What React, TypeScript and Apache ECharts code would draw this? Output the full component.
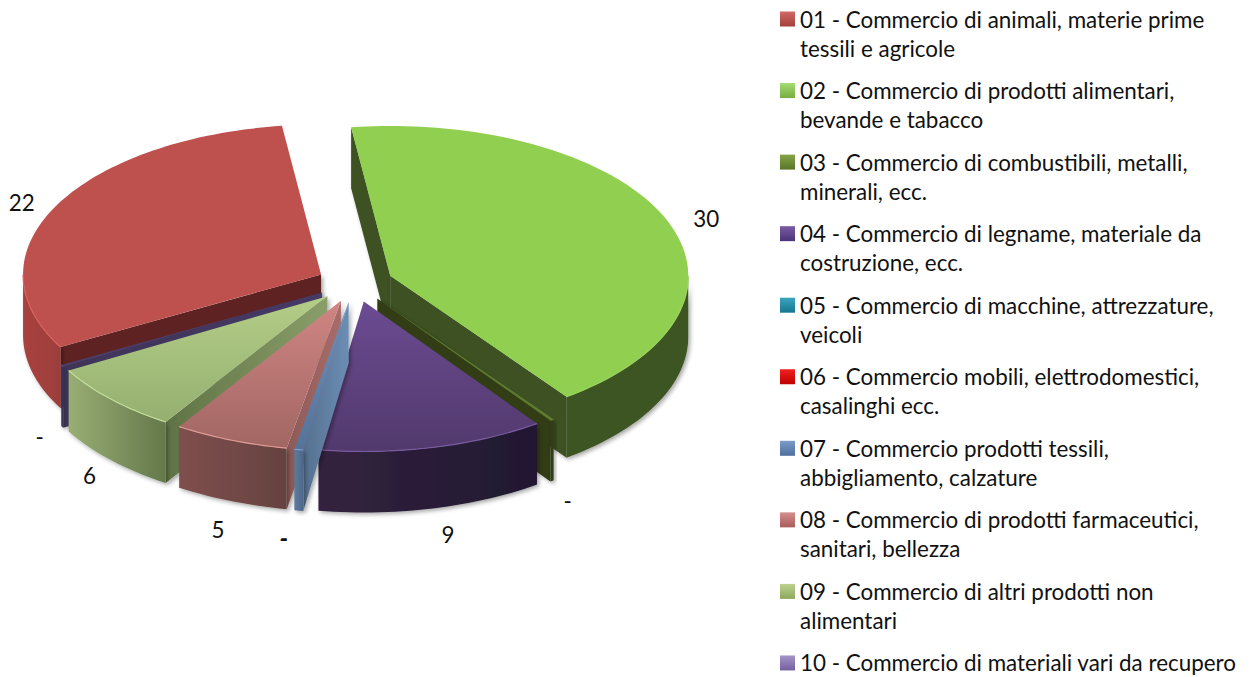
import React, { useEffect, useRef } from "react";
import * as echarts from "echarts";

const CATEGORY_LINES: string[][] = [
  ["01 - Commercio di animali, materie prime", "tessili e agricole"],
  ["02 - Commercio di prodotti alimentari,", "bevande e tabacco"],
  ["03 - Commercio di combustibili, metalli,", "minerali, ecc."],
  ["04 - Commercio di legname, materiale da", "costruzione, ecc."],
  ["05 - Commercio di macchine, attrezzature,", "veicoli"],
  ["06 - Commercio mobili, elettrodomestici,", "casalinghi ecc."],
  ["07 - Commercio prodotti tessili,", "abbigliamento, calzature"],
  ["08 - Commercio di prodotti farmaceutici,", "sanitari, bellezza"],
  ["09 - Commercio di altri prodotti non", "alimentari"],
  ["10 - Commercio di materiali vari da recupero"],
];
const VALUES = [22.4, 30.4, 0.15, 8.9, 0, 0, 0.35, 4.5, 5.5, 0.15];
const LABEL_TEXTS = ["22", "30", "-", "9", "-", "-", "-", "5", "6", "-"];

// [top from, top to, outer wall from, outer wall to, cut wall from, cut wall to, rim, legend from, legend to]
const PALETTE = [
  ["#BE504D", "#BE504D", "#A8423F", "#9C3E3B", "#5E2320", "#5E2320", "#D9635F", "#D06A66", "#A33F3C"],
  ["#90CF50", "#90CF50", "#3E5420", "#3E5420", "#3C5120", "#3C5120", "#98D45C", "#A5DC70", "#76AD3E"],
  ["#5E7A30", "#5E7A30", "#303D12", "#303D12", "#303D12", "#303D12", "#5E7A30", "#86A548", "#5A7426"],
  ["#6C4B92", "#51396C", "#33233F", "#201830", "#33233F", "#33233F", "#7A5AA0", "#7B5CA6", "#4C3278"],
  ["#2E8FA8", "#2E8FA8", "#1C6070", "#1C6070", "#1C6070", "#1C6070", "#2E8FA8", "#3AA5C0", "#17758E"],
  ["#E00000", "#E00000", "#900000", "#900000", "#900000", "#900000", "#E00000", "#F02020", "#C00000"],
  ["#6C90BC", "#557399", "#5D7A9E", "#4F6888", "#6C8DB4", "#55708F", "#7FA0C8", "#7A9CC8", "#4F6F9E"],
  ["#D08683", "#A16663", "#7F4F4D", "#654240", "#A96C6A", "#8C5957", "#E09A96", "#D4908E", "#A85C5A"],
  ["#B4CE88", "#95AF70", "#98AE74", "#64784A", "#8A9E6A", "#5F7345", "#C6DE9C", "#BCD28E", "#8CA85C"],
  ["#4A3E6C", "#4A3E6C", "#3E3458", "#3E3458", "#453A66", "#3E3458", "#5A4E80", "#A594C6", "#7460A0"],
];
// Label nudges in px, [dx, dy], applied to the computed label anchor
const LABEL_NUDGE = [
  [-2, 3], [7, 5], [-5, 3], [7, -6], [-15, -6], [-15, -6], [-9, -6], [0, 1], [4, 11], [8, 24],
];

const CX = 355;
const CY = 283;
const RADIUS = 298;
const TILT = 0.503;
const DEPTH = 61;
const EXPLODE = 38;
const FIRST_ANGLE = 241;
const FONT = "Lato";
const FONT_SIZE = 22.4;

const rad = (d: number) => (d * Math.PI) / 180;
const total = VALUES.reduce((a, b) => a + b, 0);
const spans = (() => {
  let at = FIRST_ANGLE;
  return VALUES.map((v) => {
    const start = at;
    at += (v / total) * 360;
    return { start, end: at, mid: (start + at) / 2 };
  });
})();

const pt = (ax: number, ay: number, r: number, deg: number): number[] => [
  ax + r * Math.sin(rad(deg)),
  ay - r * TILT * Math.cos(rad(deg)),
];
const down = (p: number[]) => [p[0], p[1] + DEPTH];

function arc(ax: number, ay: number, a: number, b: number): number[][] {
  const out: number[][] = [];
  const n = Math.max(2, Math.ceil(Math.abs(b - a) / 1.5));
  for (let i = 0; i <= n; i++) out.push(pt(ax, ay, RADIUS, a + ((b - a) * i) / n));
  return out;
}
const lin = (horizontal: boolean, a: string, b: string) =>
  new echarts.graphic.LinearGradient(0, 0, horizontal ? 1 : 0, horizontal ? 0 : 1, [
    { offset: 0, color: a },
    { offset: 1, color: b },
  ]);
const SHADOW = { shadowColor: "rgba(0,0,0,0.35)", shadowBlur: 4, shadowOffsetX: 2, shadowOffsetY: 2 };

function renderSlice(i: number) {
  return (_params: any, api: any) => {
    const value = api.value(0);
    const s = spans[i];
    const c = PALETTE[i];
    const [ax, ay] = pt(CX, CY, EXPLODE, s.mid);
    const apex = [ax, ay];
    const children: any[] = [];
    if (value > 0) {
      const sinS = Math.sin(rad(s.start));
      const sinE = Math.sin(rad(s.end));
      const wall = (deg: number) => {
        const p = pt(ax, ay, RADIUS, deg);
        return {
          type: "polygon",
          shape: { points: [apex, p, down(p), down(apex)] },
          style: { fill: lin(true, c[5], c[4]), ...SHADOW },
          silent: true,
        };
      };
      if (sinS < 0) children.push(wall(s.start));
      if (sinE > 0) children.push(wall(s.end));
      // visible part of the outer wall: where the rim faces the viewer
      const lo = Math.floor((s.start - 90) / 360) * 360 + 90;
      const segs: number[][] = [];
      for (const base of [lo, lo + 360]) {
        const from = Math.max(s.start, base);
        const to = Math.min(s.end, base + 180);
        if (to > from) segs.push([from, to]);
      }
      for (const [from, to] of segs) {
        const top = arc(ax, ay, from, to);
        children.push({
          type: "polygon",
          shape: { points: [...top, ...top.slice().reverse().map(down)] },
          style: { fill: lin(true, c[2], c[3]), ...SHADOW },
          silent: true,
        });
      }
      const rim = arc(ax, ay, s.start, s.end);
      children.push({
        type: "polygon",
        shape: { points: [apex, ...rim] },
        style: { fill: lin(false, c[0], c[1]) },
        silent: true,
      });
      for (const [from, to] of segs) {
        children.push({
          type: "polyline",
          shape: { points: arc(ax, ay, from, to) },
          style: { stroke: c[6], lineWidth: 1.2, fill: "none" },
          silent: true,
        });
      }
    }
    const cosM = Math.cos(rad(s.mid));
    const base = pt(ax, ay, RADIUS + 35, s.mid);
    const nudge = LABEL_NUDGE[i];
    children.push({
      type: "text",
      x: base[0] + nudge[0],
      y: base[1] + (cosM < 0 ? -cosM * 78 : 0) + nudge[1],
      style: {
        text: LABEL_TEXTS[i],
        fill: "#111",
        fontFamily: FONT,
        fontSize: FONT_SIZE,
        align: "center",
        verticalAlign: "middle",
      },
      silent: true,
      z2: 100,
    });
    return { type: "group", children };
  };
}

const seriesNames = CATEGORY_LINES.map((l) => l.join(" "));
const legendText = new Map(
  CATEGORY_LINES.map((l, i) => [seriesNames[i], `\n${l[0]}\n${l[1] ?? ""}`])
);
const depthRank = spans
  .map((s, i) => ({ i, key: -Math.cos(rad(s.mid)) }))
  .sort((p, q) => p.key - q.key)
  .map((o) => o.i);

export default function App() {
  const ref = useRef<HTMLDivElement>(null);
  useEffect(() => {
    const chart = echarts.init(ref.current!, undefined, { renderer: "svg" });
    chart.setOption({
      animation: false,
      backgroundColor: "#fff",
      legend: {
        orient: "vertical",
        left: 780,
        top: -24.5,
        height: 800,
        padding: 0,
        itemGap: -15.45,
        itemWidth: 15,
        itemHeight: 15,
        icon: "rect",
        selectedMode: false,
        data: seriesNames,
        formatter: (n: string) => legendText.get(n) ?? n,
        textStyle: {
          fontFamily: FONT,
          fontSize: FONT_SIZE,
          lineHeight: 29,
          color: "#111",
        },
      },
      series: VALUES.map((v, i) => ({
        type: "custom",
        name: seriesNames[i],
        coordinateSystem: "none",
        z: 2 + depthRank.indexOf(i),
        silent: true,
        itemStyle: { color: lin(false, PALETTE[i][7], PALETTE[i][8]) },
        renderItem: renderSlice(i),
        data: [[v]],
      })),
    });
    return () => chart.dispose();
  }, []);
  return (
    <div
      ref={ref}
      style={{ position: "absolute", left: 0, top: 0, width: 1255, height: 677 }}
    />
  );
}
